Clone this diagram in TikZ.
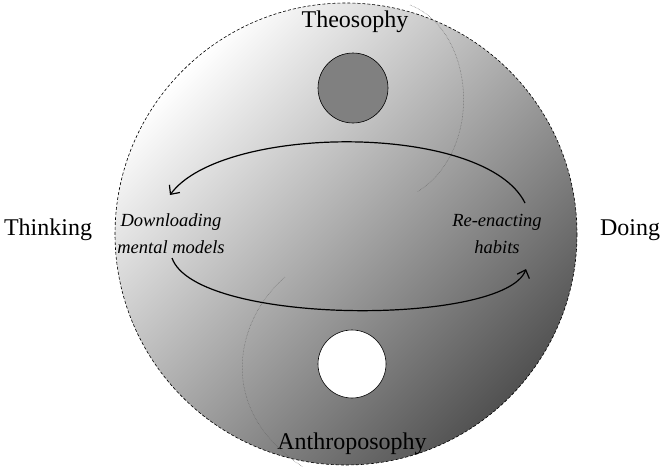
\documentclass[tikz,border=0pt]{standalone}
\usepackage{fontspec}
\setmainfont{Liberation Serif}
\usetikzlibrary{arrows.meta}
\begin{document}
\begin{tikzpicture}[x=1pt,y=-1pt,
  lbl/.style={font=\fontsize{24}{28}\selectfont, inner sep=0pt},
  itl/.style={font=\fontsize{18.5}{27}\selectfont\itshape, align=center, inner sep=0pt},
  flow/.style={line width=1.2pt, -{Straight Barb[length=7pt,width=13pt,line width=1.2pt]}},
  seam/.style={densely dotted, line width=0.5pt, black!60}]
\useasboundingbox (0,0) rectangle (661,469);
\shade[shading=axis, top color=white, middle color=black!24, bottom color=black!68, shading angle=45]
  (346,234) circle[radius=231];
\draw[dashed, line width=0.6pt, dash pattern=on 3pt off 2pt] (346,234) circle[radius=231];
\node[circle, draw, line width=0.6pt, fill=black!50, minimum size=70pt, inner sep=0pt] (dark) at (353,88) {};
\node[circle, draw, line width=0.6pt, fill=white, minimum size=68pt, inner sep=0pt] (light) at (352,364) {};
\node[lbl] (theo) at (355,22) {Theosophy};
\node[lbl] (anthro) at (352,444) {Anthroposophy};
\node[lbl] (think) at (48,230) {Thinking};
\node[lbl] (doing) at (630,230) {Doing};
\node[itl] (dl) at (171,234) {Downloading\\mental models};
\node[itl] (re) at (497,234) {Re-enacting\\habits};
\coordinate (s1) at (410,5);
\coordinate (e1) at (417,192);
\coordinate (s2) at (285,277);
\coordinate (e2) at (303,467);
\draw[seam] (s1) .. controls (475,30) and (485,150) .. (e1);
\draw[seam] (s2) .. controls (235,320) and (215,410) .. (e2);
\coordinate (a1) at (525,203);
\coordinate (b1) at (170,195);
\coordinate (a2) at (172,258);
\coordinate (b2) at (526,269);
\draw[flow] (a1) .. controls (485,122) and (222,124) .. (b1);
\draw[flow] (a2) .. controls (196,326) and (505,326) .. (b2);
\end{tikzpicture}
\end{document}
